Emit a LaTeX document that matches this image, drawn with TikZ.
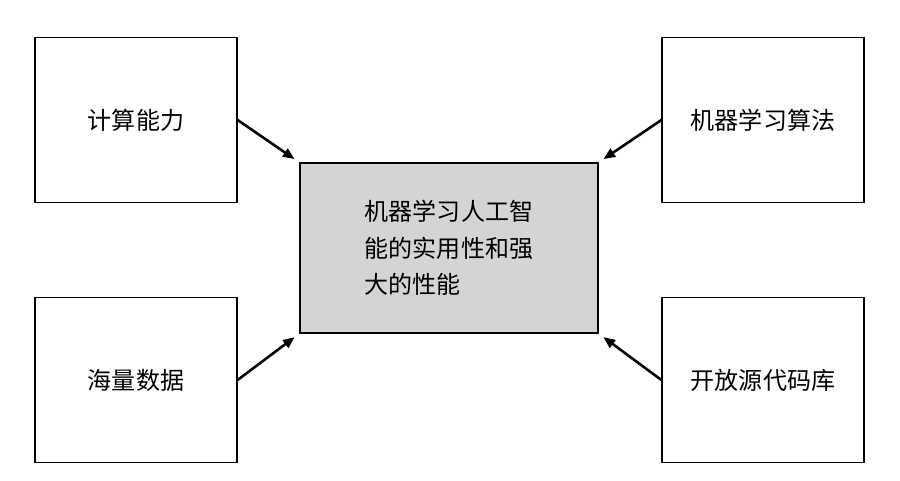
\documentclass[tikz,border=0pt]{standalone}
\usepackage{fontspec}
\newfontfamily\cjk{Noto Sans CJK SC}
\usetikzlibrary{positioning}
\usetikzlibrary{arrows.meta}

\begin{document}
\begin{tikzpicture}[
    x=0.03cm, y=-0.03cm,
    block/.style={rectangle, draw=black, line width=1pt, fill=white, minimum width=6.06cm, minimum height=4.95cm, font=\cjk\fontsize{20.5}{31}\selectfont},
    core/.style={block, fill=black!17, minimum width=8.94cm, minimum height=5.1cm, align=left},
    link/.style={-{Triangle[length=10pt,width=8pt]}, line width=2.2pt, shorten >=5pt},
]
    \useasboundingbox (0,0) rectangle (900,481);

    \node[core] (C) at (449,248) {机器学习人工智\\能的实用性和强\\大的性能};

    \node[block] (B1) at (136,120) {计算能力};
    \node[block] (B2) at (136,380) {海量数据};
    \node[block] (B3) at (763,120) {机器学习算法};
    \node[block] (B4) at (763,380) {开放源代码库};

    \draw[link] (B1.east) -- (C.north west);
    \draw[link] (B2.east) -- (C.south west);
    \draw[link] (B3.west) -- (C.north east);
    \draw[link] (B4.west) -- (C.south east);
\end{tikzpicture}
\end{document}
